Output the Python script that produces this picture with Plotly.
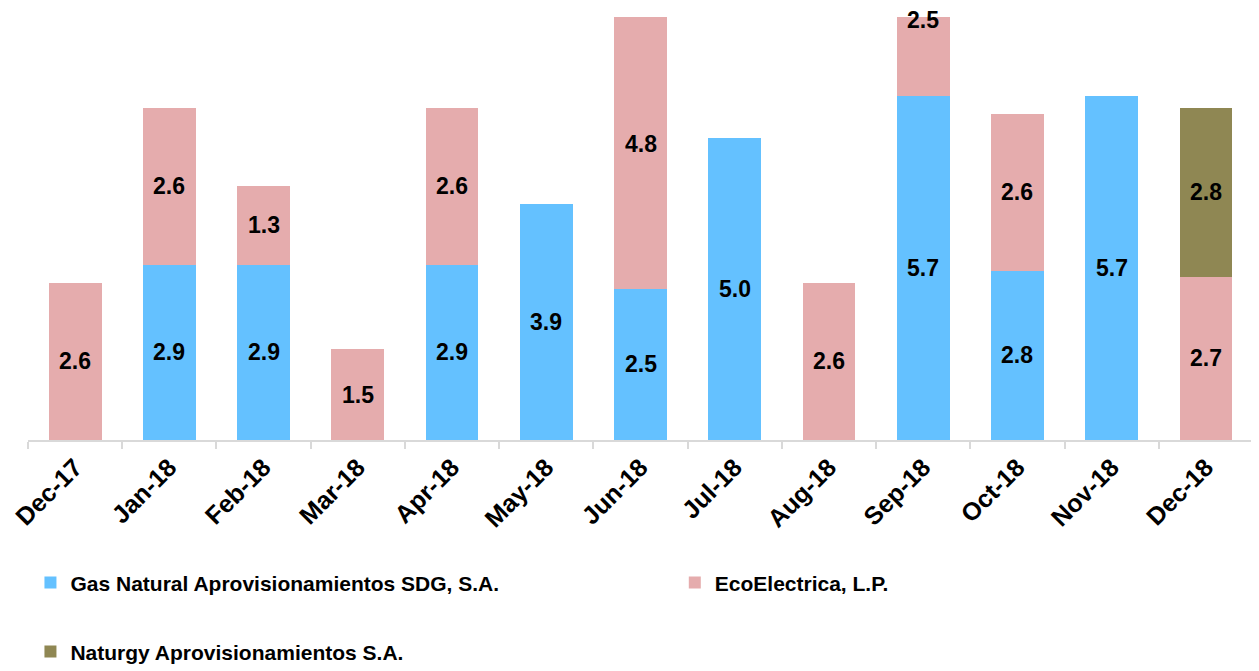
import plotly.graph_objects as go

months = ["Dec-17", "Jan-18", "Feb-18", "Mar-18", "Apr-18", "May-18", "Jun-18",
          "Jul-18", "Aug-18", "Sep-18", "Oct-18", "Nov-18", "Dec-18"]
gas_natural = [None, 2.9, 2.9, None, 2.9, 3.9, 2.5, 5.0, None, 5.7, 2.8, 5.7, None]
ecoelectrica = [2.6, 2.6, 1.3, 1.5, 2.6, None, 4.8, None, 2.6, 2.5, 2.6, None, 2.7]
naturgy = [None, None, None, None, None, None, None, None, None, None, None, None, 2.8]

names = ["Gas Natural Aprovisionamientos SDG, S.A.", "EcoElectrica, L.P.",
         "Naturgy Aprovisionamientos S.A."]
colors = ["#64C1FF", "#E5ACAD", "#8F8753"]

FONT = "Liberation Sans"
Y_MAX = 7.0

fig = go.Figure()
series = [gas_natural, ecoelectrica, naturgy]
for vals, name, col, lg in zip(series, names, colors,
                               ["legend", "legend2", "legend3"]):
    fig.add_trace(go.Bar(
        x=months, y=vals, name=name, marker=dict(color=col, line=dict(width=0)),
        legend=lg, hoverinfo="skip",
    ))

# value labels, centred on each stacked segment
base = [0.0] * len(months)
annotations = []
for vals in series:
    for i, v in enumerate(vals):
        if v is None:
            continue
        annotations.append(dict(
            x=months[i], y=base[i] + v / 2, xref="x", yref="y",
            text=f"{v:.1f}", showarrow=False,
            font=dict(family=FONT, size=23, color="black", weight="bold"),
            xanchor="center", yanchor="middle",
        ))
        base[i] += v

legfont = dict(family=FONT, size=21, color="black", weight="bold")
fig.update_layout(
    barmode="stack",
    bargap=0.44,
    width=1251, height=663,
    margin=dict(l=20, r=6, t=9, b=231, autoexpand=False),
    paper_bgcolor="white", plot_bgcolor="white",
    font=dict(family=FONT),
    showlegend=True,
    annotations=annotations,
    legend=dict(x=0.002, y=-0.338, xanchor="left", yanchor="middle",
                font=legfont, bgcolor="rgba(0,0,0,0)"),
    legend2=dict(x=0.528, y=-0.338, xanchor="left", yanchor="middle",
                 font=legfont, bgcolor="rgba(0,0,0,0)"),
    legend3=dict(x=0.002, y=-0.501, xanchor="left", yanchor="middle",
                 font=legfont, bgcolor="rgba(0,0,0,0)"),
    xaxis=dict(
        type="category", tickangle=-45, tickson="boundaries",
        ticks="outside", ticklen=7, tickcolor="#D9D9D9", tickwidth=1.5,
        showline=True, linecolor="#D9D9D9", linewidth=1.5,
        tickfont=dict(family=FONT, size=25, color="black", weight="bold"),
        ticklabelstandoff=1,
        showgrid=False, layer="below traces",
    ),
    yaxis=dict(range=[0, Y_MAX], visible=False, showgrid=False, zeroline=False),
)

fig.write_html("out.html")
